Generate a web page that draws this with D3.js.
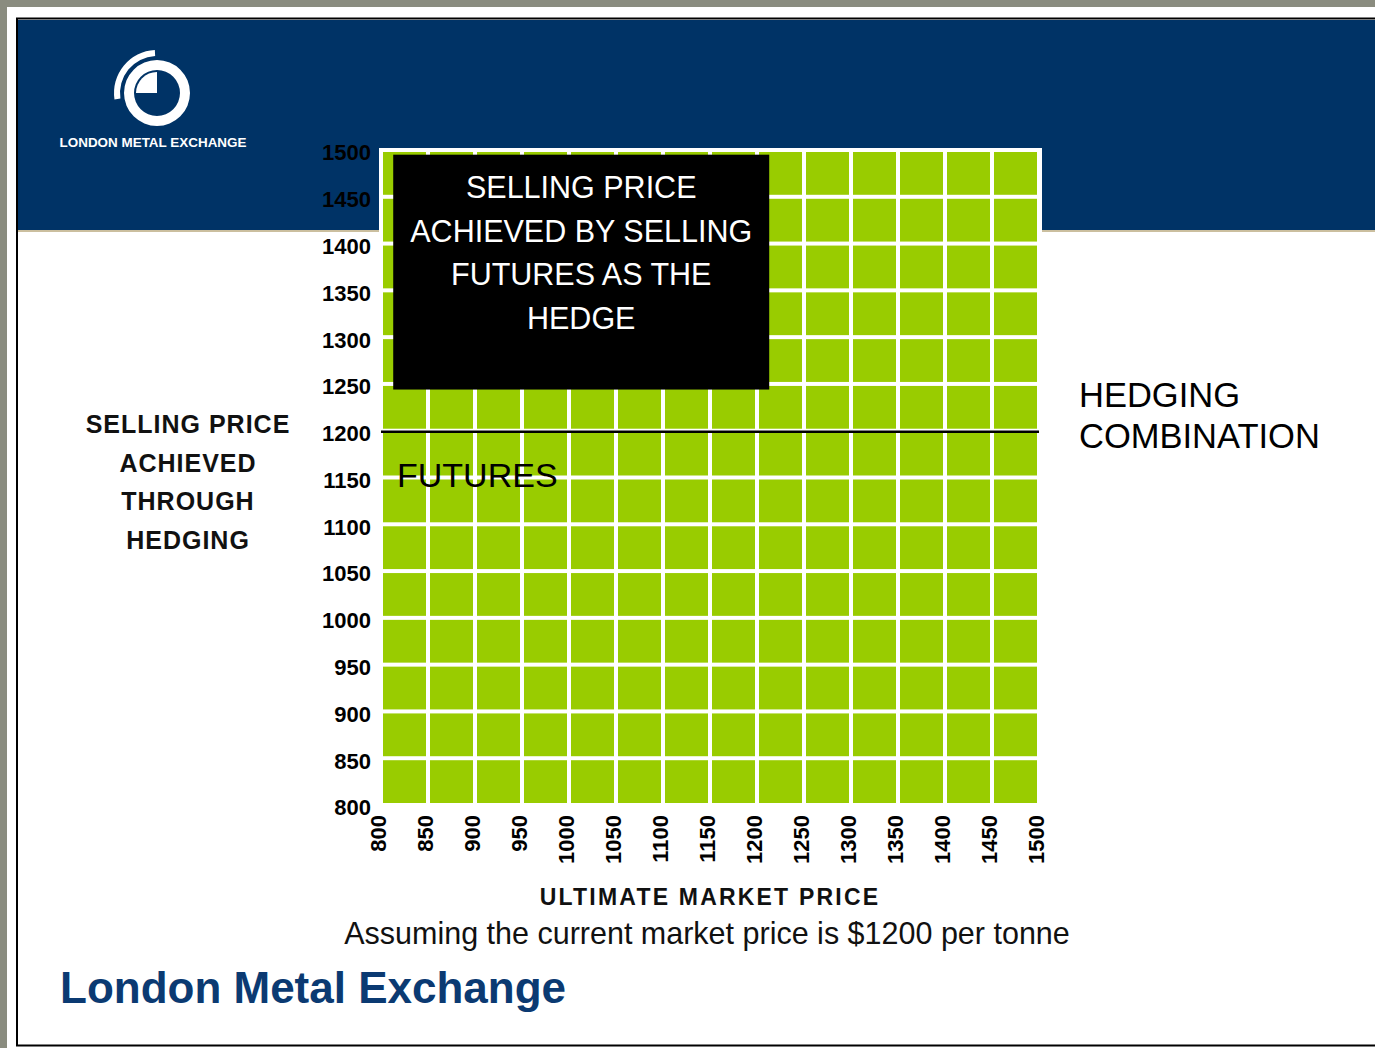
<!DOCTYPE html>
<html>
<head>
<meta charset="utf-8">
<script src="https://cdn.jsdelivr.net/npm/d3@7"></script>
<style>
  html, body { margin: 0; padding: 0; background: #8a8c7f; }
  svg { display: block; }
  text { font-family: "Liberation Sans", Arial, Helvetica, sans-serif; }
</style>
</head>
<body>
<svg id="chart" width="1375" height="1048"></svg>
<script>
// Ultimate market price axis (x) and achieved selling price axis (y), $ per tonne
const marketPrices = [800, 850, 900, 950, 1000, 1050, 1100, 1150, 1200, 1250, 1300, 1350, 1400, 1450, 1500];
const sellingPriceTicks = [800, 850, 900, 950, 1000, 1050, 1100, 1150, 1200, 1250, 1300, 1350, 1400, 1450, 1500];
// Price achieved when the hedge is made by selling futures at $1200
const futuresHedgeResult = [1200, 1200, 1200, 1200, 1200, 1200, 1200, 1200, 1200, 1200, 1200, 1200, 1200, 1200, 1200];

const boxLines = ["SELLING PRICE", "ACHIEVED BY SELLING", "FUTURES AS THE", "HEDGE"];
const yTitleLines = ["SELLING PRICE", "ACHIEVED", "THROUGH", "HEDGING"];
const rightTitleLines = ["HEDGING", "COMBINATION"];

const svg = d3.select("#chart");

// page frame
svg.append("rect").attr("x", 7).attr("y", 7).attr("width", 1368).attr("height", 1041).attr("fill", "#fff");
svg.append("rect").attr("x", 17).attr("y", 18.5).attr("width", 1370).attr("height", 1027)
  .attr("fill", "none").attr("stroke", "#000").attr("stroke-width", 2);
svg.append("rect").attr("x", 18).attr("y", 20).attr("width", 1357).attr("height", 211).attr("fill", "#003366");
svg.append("rect").attr("x", 18).attr("y", 230).attr("width", 1357).attr("height", 2).attr("fill", "#cbbf9f");

// logo
const logo = svg.append("g").attr("transform", "translate(157,93)");
logo.append("path").attr("fill", "#fff")
  .attr("d", d3.arc()({ innerRadius: 23, outerRadius: 33, startAngle: 0, endAngle: 2 * Math.PI }));
logo.append("path").attr("fill", "#fff")
  .attr("d", d3.arc()({ innerRadius: 0, outerRadius: 21, startAngle: -Math.PI / 2, endAngle: 0 }));
logo.append("path").attr("fill", "#fff")
  .attr("d", d3.arc()({ innerRadius: 37, outerRadius: 43, startAngle: -1.72, endAngle: -0.05 }));
svg.append("text").attr("x", 153).attr("y", 147).attr("text-anchor", "middle")
  .attr("fill", "#fff").attr("font-size", 12).attr("font-weight", "bold")
  .attr("textLength", 187).attr("lengthAdjust", "spacingAndGlyphs")
  .text("LONDON METAL EXCHANGE");

// scales
const x = d3.scaleLinear().domain([800, 1500]).range([381, 1039]);
const y = d3.scaleLinear().domain([800, 1500]).range([805, 150]);

// plot background and green cells separated by white grid lines
svg.append("rect")
  .attr("x", x(800) - 2).attr("y", y(1500) - 2)
  .attr("width", x(1500) - x(800) + 5).attr("height", y(800) - y(1500) + 4)
  .attr("fill", "#fff");

const cols = d3.pairs(marketPrices);
const rows = d3.pairs(sellingPriceTicks);
const cells = [];
cols.forEach(c => rows.forEach(r => cells.push({ c, r })));
svg.append("g").selectAll("rect").data(cells).join("rect")
  .attr("x", d => x(d.c[0]) + 2)
  .attr("width", d => x(d.c[1]) - x(d.c[0]) - 4)
  .attr("y", d => y(d.r[1]) + 2)
  .attr("height", d => y(d.r[0]) - y(d.r[1]) - 4)
  .attr("fill", "#99cc00");

// y axis labels
const yAxis = d3.axisLeft(y).tickValues(sellingPriceTicks).tickFormat(d3.format("d")).tickSize(0).tickPadding(0);
svg.append("g").attr("transform", "translate(371,0)").call(yAxis)
  .call(g => g.select(".domain").remove())
  .call(g => g.selectAll("text")
    .attr("font-size", 22).attr("font-weight", "bold").attr("fill", "#000")
    .attr("font-family", "'Liberation Sans', Arial, sans-serif")
    .attr("dy", "0.45em"));

// x axis labels, rotated
const xAxis = d3.axisBottom(x).tickValues(marketPrices).tickFormat(d3.format("d")).tickSize(0).tickPadding(0);
svg.append("g").attr("transform", "translate(-3,815)").call(xAxis)
  .call(g => g.select(".domain").remove())
  .call(g => g.selectAll("text")
    .attr("font-size", 22).attr("font-weight", "bold").attr("fill", "#000")
    .attr("font-family", "'Liberation Sans', Arial, sans-serif")
    .attr("transform", "rotate(-90)")
    .attr("text-anchor", "end")
    .attr("x", 0).attr("y", 0).attr("dy", "0.36em"));

// futures hedge line
const hedgeLine = d3.line().x((d, i) => x(marketPrices[i])).y(d => y(d));
svg.append("path").datum(futuresHedgeResult)
  .attr("d", hedgeLine).attr("fill", "none").attr("stroke", "#000").attr("stroke-width", 2.5)
  .attr("transform", "translate(0,1)");
svg.append("text").attr("x", x(800) + 16).attr("y", y(1200) + 56)
  .attr("font-size", 34).attr("fill", "#000").text("FUTURES");

// explanatory box
const bx0 = x(813), bx1 = x(1213), by0 = y(1495), by1 = y(1244);
svg.append("rect").attr("x", bx0).attr("y", by0).attr("width", bx1 - bx0).attr("height", by1 - by0).attr("fill", "#000");
svg.append("g").selectAll("text").data(boxLines).join("text")
  .attr("x", (bx0 + bx1) / 2).attr("y", (d, i) => 198 + i * 43.5)
  .attr("text-anchor", "middle").attr("font-size", 30.5).attr("fill", "#fff")
  .text(d => d);

// axis titles
svg.append("g").selectAll("text").data(yTitleLines).join("text")
  .attr("x", 188).attr("y", (d, i) => 433 + i * 38.5)
  .attr("text-anchor", "middle").attr("font-size", 25).attr("font-weight", "bold")
  .attr("letter-spacing", 1).attr("fill", "#111")
  .text(d => d);

svg.append("g").selectAll("text").data(rightTitleLines).join("text")
  .attr("x", 1079).attr("y", (d, i) => 407 + i * 41)
  .attr("font-size", 34.5).attr("fill", "#000")
  .text(d => d);

svg.append("text").attr("x", 710).attr("y", 905).attr("text-anchor", "middle")
  .attr("font-size", 23).attr("font-weight", "bold").attr("letter-spacing", 2.2).attr("fill", "#111")
  .text("ULTIMATE MARKET PRICE");

svg.append("text").attr("x", 707).attr("y", 944).attr("text-anchor", "middle")
  .attr("font-size", 30.5).attr("fill", "#111")
  .text("Assuming the current market price is $1200 per tonne");

svg.append("text").attr("x", 60).attr("y", 1003)
  .attr("font-size", 44).attr("font-weight", "bold").attr("fill", "#0b3a72")
  .text("London Metal Exchange");
</script>
</body>
</html>
